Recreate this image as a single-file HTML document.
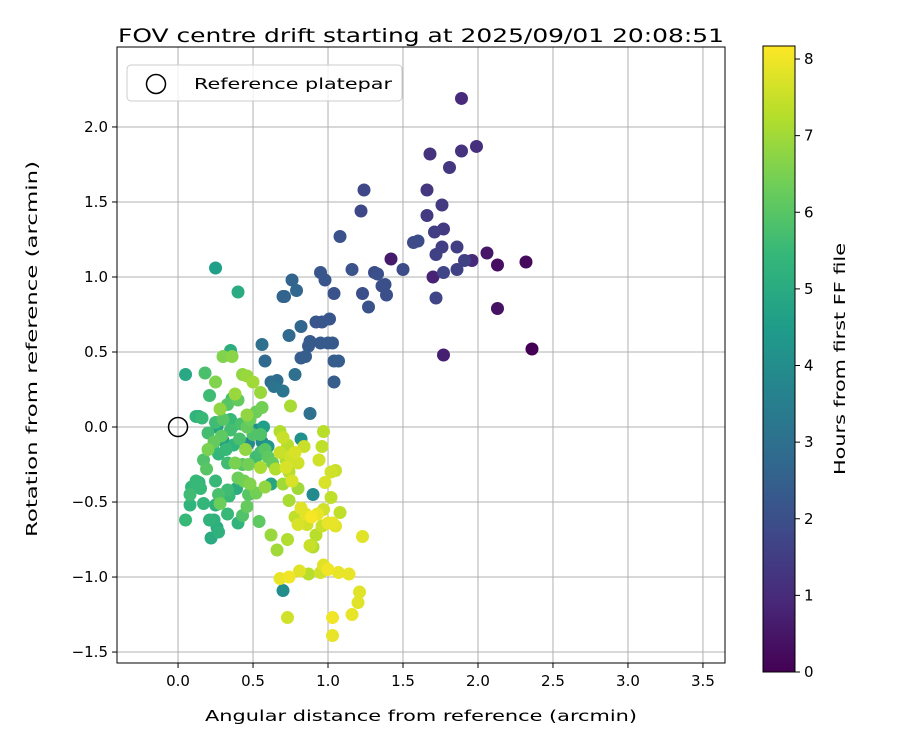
<!DOCTYPE html>
<html><head><meta charset="utf-8"><style>body{margin:0;background:#fff}svg{display:block;font-family:"DejaVu Sans","Liberation Sans",sans-serif}</style></head>
<body>
<svg id="c" width="900" height="750"></svg>
<script>
const xs=[2.36,2.32,2.13,2.13,2.06,1.42,1.77,1.70,1.96,1.89,1.99,1.89,1.68,1.81,1.66,1.76,1.66,1.77,1.71,1.86,1.76,1.72,1.91,1.86,1.77,1.72,1.24,1.22,1.60,1.57,1.50,1.31,1.33,1.38,1.36,1.39,1.23,1.27,1.08,1.16,1.04,0.95,0.98,1.01,0.96,0.92,1.00,1.03,0.95,0.88,0.87,0.82,0.85,1.07,1.04,1.04,0.70,0.71,0.76,0.79,0.82,0.74,0.58,0.62,0.66,0.56,0.78,0.88,0.64,0.70,0.70,0.90,0.82,0.56,0.47,0.52,0.30,0.26,0.36,0.23,0.60,0.57,0.14,0.35,0.40,0.25,0.05,0.62,0.39,0.18,0.21,0.12,0.16,0.25,0.30,0.33,0.36,0.40,0.35,0.42,0.46,0.48,0.52,0.50,0.55,0.58,0.55,0.60,0.63,0.52,0.47,0.43,0.38,0.33,0.27,0.24,0.20,0.17,0.12,0.09,0.08,0.15,0.19,0.25,0.27,0.33,0.34,0.40,0.44,0.47,0.52,0.46,0.43,0.40,0.33,0.28,0.25,0.24,0.21,0.26,0.27,0.22,0.17,0.08,0.05,0.14,0.35,0.29,0.32,0.37,0.41,0.20,0.54,0.48,0.56,0.30,0.36,0.38,0.43,0.46,0.50,0.55,0.75,0.68,0.73,0.65,0.62,0.66,0.73,0.87,0.92,0.90,0.80,0.74,0.78,0.70,0.72,0.74,0.55,0.58,0.45,0.28,0.25,0.46,0.68,0.70,0.75,0.78,0.84,0.72,0.80,0.76,0.82,0.85,0.80,0.86,0.89,0.93,0.97,1.02,0.98,1.02,1.05,0.96,0.94,0.97,1.00,1.03,1.08,0.96,1.05,0.97,1.00,1.07,1.14,1.21,1.20,1.16,1.03,1.03,0.95,0.81,0.74,0.68,0.73,1.23,0.88];
const ys=[0.52,1.10,1.08,0.79,1.16,1.12,0.48,1.00,1.11,2.19,1.87,1.84,1.82,1.73,1.58,1.48,1.41,1.32,1.30,1.20,1.20,1.15,1.11,1.05,1.03,0.86,1.58,1.44,1.24,1.23,1.05,1.03,1.02,0.95,0.94,0.88,0.89,0.80,1.27,1.05,0.89,1.03,0.98,0.72,0.70,0.70,0.56,0.56,0.56,0.57,0.54,0.46,0.47,0.44,0.44,0.30,0.87,0.87,0.98,0.91,0.67,0.61,0.44,0.30,0.31,0.55,0.35,0.09,0.27,0.24,-1.09,-0.45,-0.08,-0.10,-0.11,-0.02,-0.09,0.00,0.00,-0.14,-0.13,0.00,0.07,0.51,0.90,1.06,0.35,-0.38,-0.41,0.36,0.21,0.07,0.06,0.03,0.05,0.15,0.19,0.18,0.05,0.02,0.00,0.05,0.10,-0.05,-0.05,-0.15,-0.17,-0.20,-0.24,-0.20,-0.25,-0.25,-0.24,-0.24,-0.18,-0.10,-0.04,-0.22,-0.36,-0.40,-0.45,-0.41,-0.28,-0.36,-0.45,-0.42,-0.46,-0.34,-0.36,-0.45,-0.44,-0.53,-0.59,-0.64,-0.58,-0.51,-0.52,-0.62,-0.62,-0.67,-0.70,-0.74,-0.51,-0.52,-0.62,-0.37,-0.02,-0.06,-0.15,-0.12,-0.08,-0.15,-0.63,-0.38,0.13,0.47,0.47,0.22,0.35,0.34,0.30,0.23,0.14,-0.03,-0.12,-0.28,-0.72,-0.82,-0.75,-0.98,-0.72,-0.80,-0.41,-0.49,-0.60,-0.38,-0.22,-0.30,-0.27,-0.40,-0.15,0.12,0.30,0.08,-0.17,-0.07,-0.20,-0.17,-0.13,-0.27,-0.24,-0.36,-0.54,-0.58,-0.65,-0.65,-0.60,-0.58,-0.55,-0.47,-0.37,-0.30,-0.29,-0.13,-0.22,-0.03,-0.64,-0.64,-0.57,-0.66,-0.66,-0.92,-0.95,-0.97,-0.98,-1.10,-1.17,-1.25,-1.27,-1.39,-0.97,-0.96,-1.00,-1.01,-1.27,-0.73,-0.79];
const hours=[0.0,0.2,0.3,0.4,0.5,0.6,0.7,0.8,0.9,1.0,1.1,1.2,1.2,1.3,1.3,1.4,1.4,1.4,1.5,1.5,1.5,1.6,1.6,1.6,1.7,1.7,1.8,1.8,1.9,1.9,1.9,1.9,2.0,2.0,2.0,2.0,2.0,2.1,2.1,2.1,2.1,2.2,2.2,2.2,2.2,2.2,2.3,2.3,2.3,2.3,2.3,2.4,2.4,2.4,2.4,2.4,2.6,2.6,2.6,2.7,2.7,2.8,2.8,2.9,2.9,3.0,3.0,3.0,3.1,3.2,4.0,3.9,4.1,4.0,3.9,4.0,4.5,4.7,4.6,4.9,4.3,4.6,5.0,5.1,5.0,4.6,4.9,4.8,5.1,5.8,5.6,5.3,5.5,5.6,6.0,6.0,5.7,6.2,5.5,5.8,6.2,6.3,6.3,5.9,5.9,6.0,5.7,6.1,6.2,5.6,6.4,6.0,6.5,5.6,5.4,6.2,5.7,5.9,5.5,5.4,5.6,5.5,6.0,5.5,5.8,5.6,5.5,6.3,6.4,6.0,6.4,6.2,5.9,5.3,5.5,6.3,5.2,5.2,5.3,5.1,5.2,5.0,5.4,5.3,5.5,5.4,5.7,6.1,5.5,5.3,5.8,6.5,6.1,6.6,6.4,6.6,6.7,6.9,6.8,6.9,7.0,6.9,7.1,7.2,7.3,7.2,6.9,7.0,7.2,7.3,7.3,7.2,7.0,7.1,7.4,7.0,7.2,7.3,7.1,6.8,6.8,6.8,6.6,6.8,7.5,7.5,7.6,7.7,7.5,7.7,7.6,7.7,7.8,7.8,7.7,7.6,8.1,7.9,7.6,7.4,7.7,7.6,7.5,7.4,7.6,7.3,7.9,7.9,7.4,7.5,7.8,7.8,8.0,7.9,7.9,7.8,7.8,7.9,8.0,7.9,7.6,7.8,8.0,7.9,7.6,7.8,7.5];
const xTicks=[0,0.5,1,1.5,2,2.5,3,3.5];
const yTicks=[-1.5,-1,-0.5,0,0.5,1,1.5,2];
const cTicks=[0,1,2,3,4,5,6,7,8];
const L=117,R=725,T=47,B=663,X0=-0.407,X1=3.647,Y0=-1.573,Y1=2.533,HMAX=8.17;
const sx=v=>L+(v-X0)/(X1-X0)*(R-L), sy=v=>B-(v-Y0)/(Y1-Y0)*(B-T);
const CB={x:763,w:32,t:46,b:672}; const sc=h=>CB.b-h/HMAX*(CB.b-CB.t);
const vir=[[68,1,84],[72,40,120],[62,73,137],[49,104,142],[38,130,142],[31,158,137],[53,183,121],[110,206,88],[181,222,43],[253,231,37]];
function cm(t){t=Math.max(0,Math.min(1,t))*9;const i=Math.min(8,Math.floor(t)),f=t-i,a=vir[i],b=vir[i+1];return `rgb(${a.map((v,k)=>Math.round(v+(b[k]-v)*f)).join(',')})`;}
const fmt=v=>v.toFixed(1).replace('-','\u2212');
const svg=document.getElementById('c');const NS='http://www.w3.org/2000/svg';
function el(tag,at,txt,parent){const e=document.createElementNS(NS,tag);for(const k in at)e.setAttribute(k,at[k]);if(txt!=null)e.textContent=txt;(parent||svg).appendChild(e);return e;}
let e;
e=el('rect',{x:L,y:T,width:R-L,height:B-T,fill:'#fff'});


xTicks.forEach(v=>{const x=sx(v);
e=el('line',{x1:x,x2:x,y1:T,y2:B,stroke:'#b0b0b0','stroke-width':1});


el('line',{x1:x,x2:x,y1:B,y2:B+5,stroke:'#000'});
e=el('text',{x:x,y:B+23,'font-size':15,'text-anchor':'middle'},fmt(v));

});
yTicks.forEach(v=>{const y=sy(v);
e=el('line',{x1:L,x2:R,y1:y,y2:y,stroke:'#b0b0b0','stroke-width':1});


el('line',{x1:L-5,x2:L,y1:y,y2:y,stroke:'#000'});
e=el('text',{x:L-9,y:y+5,'font-size':15,'text-anchor':'end'},fmt(v));

});
const idx=hours.map((h,i)=>i).sort((a,b)=>hours[a]-hours[b]);
idx.forEach(i=>{e=el('circle',{cx:sx(xs[i]),cy:sy(ys[i]),r:6.5,fill:cm(hours[i]/HMAX)});

});
e=el('circle',{cx:sx(0),cy:sy(0),r:9.5,fill:'none',stroke:'#000','stroke-width':1.5});


e=el('rect',{x:L,y:T,width:R-L,height:B-T,fill:'none',stroke:'#000','stroke-width':1});


const lg=el('g',{});


el('rect',{x:127,y:65,width:275,height:36,rx:4,fill:'#fff','fill-opacity':0.8,stroke:'#ccc'},null,lg);
el('circle',{cx:156,cy:84,r:9.5,fill:'none',stroke:'#000','stroke-width':1.5},null,lg);
e=el('text',{x:194,y:89,'font-size':15,textLength:198,lengthAdjust:'spacingAndGlyphs'},'Reference platepar',lg);


e=el('text',{x:421,y:42,'font-size':19,'text-anchor':'middle',textLength:606,lengthAdjust:'spacingAndGlyphs'},'FOV centre drift starting at 2025/09/01 20:08:51');


e=el('text',{x:421,y:721,'font-size':15.5,'text-anchor':'middle',textLength:432,lengthAdjust:'spacingAndGlyphs'},'Angular distance from reference (arcmin)');


e=el('text',{x:0,y:0,'font-size':15.5,'text-anchor':'middle',textLength:376,lengthAdjust:'spacingAndGlyphs',transform:`translate(37,${(T+B)/2-6}) rotate(-90)`},'Rotation from reference (arcmin)');


const defs=el('defs',{});const gr=el('linearGradient',{id:'vg',x1:0,y1:1,x2:0,y2:0},null,defs);
vir.forEach((c,k)=>el('stop',{offset:k/9,'stop-color':`rgb(${c})`},null,gr));
e=el('rect',{x:CB.x,y:CB.t,width:CB.w,height:CB.b-CB.t,fill:'url(#vg)',stroke:'#000','stroke-width':1});


cTicks.forEach(v=>{const y=sc(v);el('line',{x1:CB.x+CB.w,x2:CB.x+CB.w+5,y1:y,y2:y,stroke:'#000'});
e=el('text',{x:CB.x+CB.w+9,y:y+5,'font-size':15},String(v));

});
e=el('text',{x:0,y:0,'font-size':15.5,'text-anchor':'middle',textLength:232,lengthAdjust:'spacingAndGlyphs',transform:`translate(845,${(CB.t+CB.b)/2}) rotate(-90)`},'Hours from first FF file');


</script>
</body></html>
